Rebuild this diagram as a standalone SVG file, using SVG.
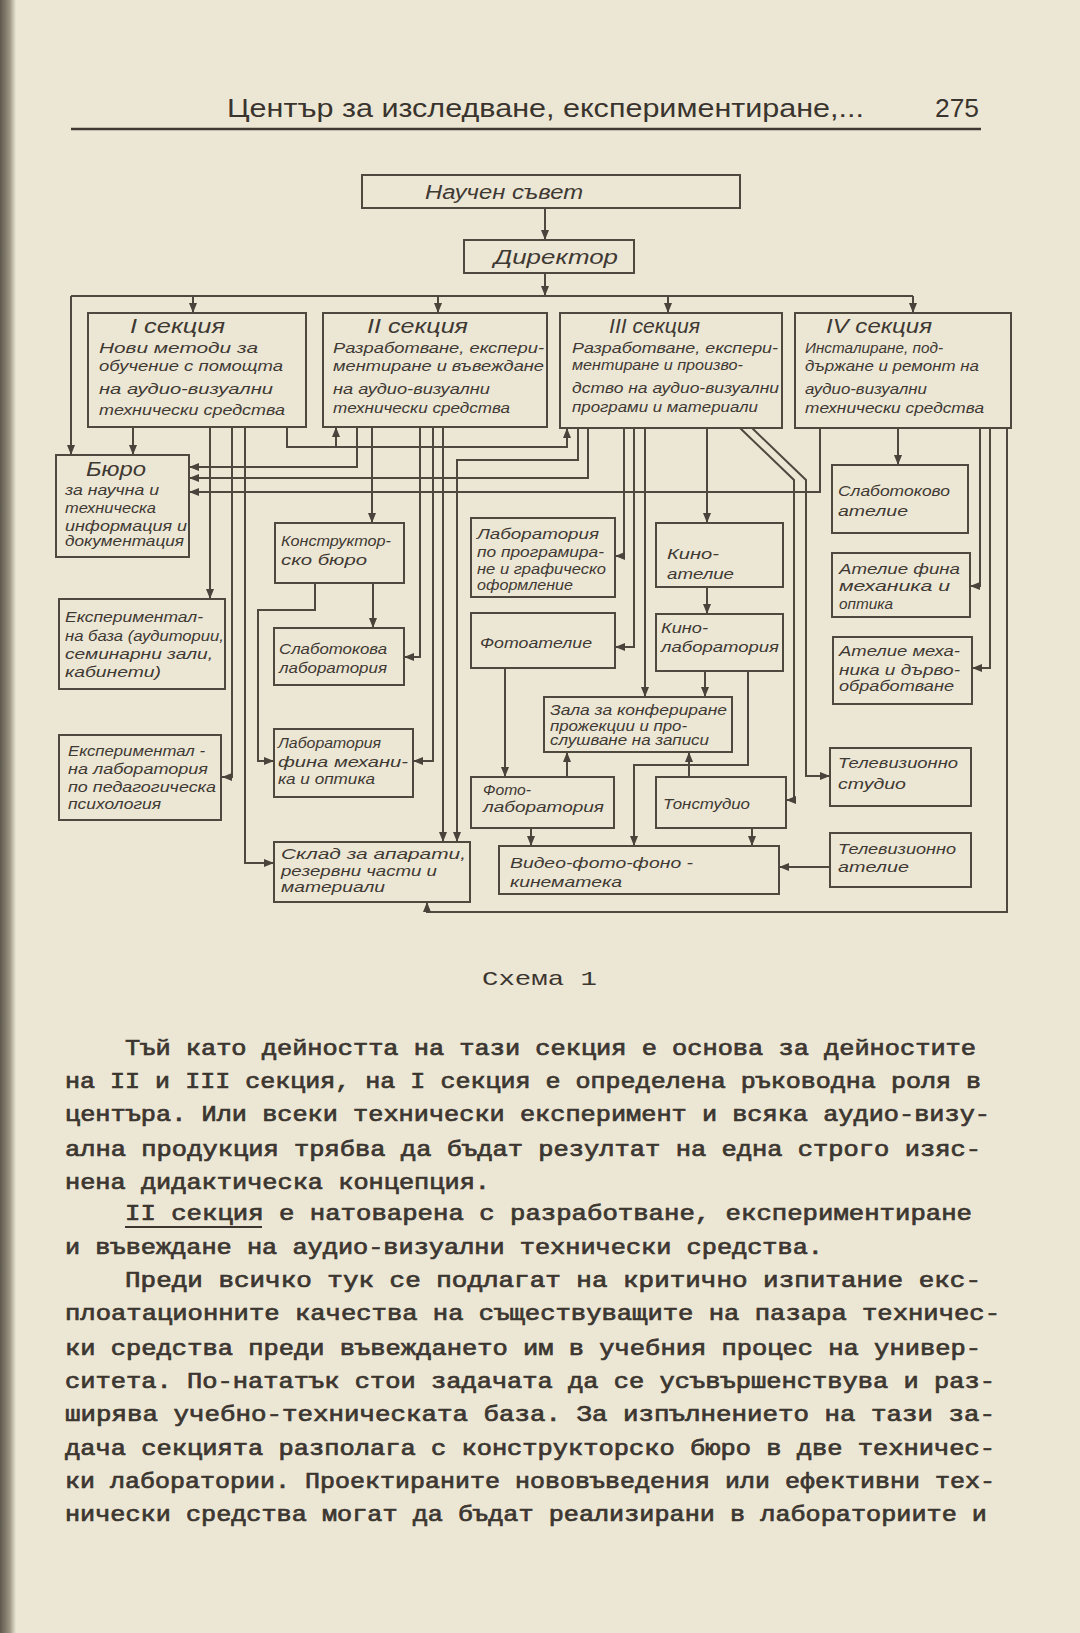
<svg xmlns="http://www.w3.org/2000/svg" width="1080" height="1633" viewBox="0 0 1080 1633">
<defs>
<linearGradient id="edge" x1="0" y1="0" x2="1" y2="0">
<stop offset="0" stop-color="#5e574c"/>
<stop offset="0.6" stop-color="#9b9483"/>
<stop offset="1" stop-color="#ebe6d3"/>
</linearGradient>
<marker id="ar" markerWidth="10" markerHeight="8" refX="10" refY="4" orient="auto" markerUnits="userSpaceOnUse">
<path d="M0,0 L10,4 L0,8 z" fill="#4a433b"/>
</marker>
<style>
.box{fill:none;stroke:#4f483f;stroke-width:2}
.c{fill:none;stroke:#4f483f;stroke-width:2}
.t{font-family:"Liberation Sans","DejaVu Sans",sans-serif;font-style:italic;font-size:15px;fill:#3f3933}
.tt{font-family:"Liberation Sans","DejaVu Sans",sans-serif;font-style:italic;font-size:20px;fill:#3f3933}
.h{font-family:"Liberation Sans","DejaVu Sans",sans-serif;font-size:25px;fill:#3a342e}
.b{font-family:"Liberation Mono","DejaVu Sans Mono",monospace;font-size:22px;fill:#3c3630;stroke:#3c3630;stroke-width:0.7}
</style>
</defs>
<rect x="0" y="0" width="1080" height="1633" fill="#ece7d5"/>
<rect x="0" y="0" width="16" height="1633" fill="url(#edge)"/>

<g id="header">
<text class="h" x="227" y="117" textLength="637" lengthAdjust="spacingAndGlyphs">Център за изследване, експериментиране,...</text>
<text class="h" x="935" y="117" textLength="44" lengthAdjust="spacingAndGlyphs">275</text>
<line x1="71" y1="129" x2="981" y2="129" stroke="#3f3933" stroke-width="2.5"/>
</g>

<g id="connectors">
<path class="c" d="M545,208 V240" marker-end="url(#ar)"/>
<path class="c" d="M545,273 V296" marker-end="url(#ar)"/>
<path class="c" d="M71,296 H913"/>
<path class="c" d="M71,296 V455" marker-end="url(#ar)"/>
<path class="c" d="M193,296 V313" marker-end="url(#ar)"/>
<path class="c" d="M438,296 V313" marker-end="url(#ar)"/>
<path class="c" d="M668,296 V313" marker-end="url(#ar)"/>
<path class="c" d="M913,296 V313" marker-end="url(#ar)"/>
<path class="c" d="M133,427 V455" marker-end="url(#ar)"/>
<path class="c" d="M210,427 V599" marker-end="url(#ar)"/>
<path class="c" d="M232,427 V777 H222" marker-end="url(#ar)"/>
<path class="c" d="M245,427 V863 H274" marker-end="url(#ar)"/>
<path class="c" d="M287,427 V447 H567 V428" marker-end="url(#ar)"/>
<path class="c" d="M336,447 V427" marker-end="url(#ar)"/>
<path class="c" d="M357,427 V467 H189" marker-end="url(#ar)"/>
<path class="c" d="M372,427 V523" marker-end="url(#ar)"/>
<path class="c" d="M420,427 V657 H404" marker-end="url(#ar)"/>
<path class="c" d="M433,427 V761 H413" marker-end="url(#ar)"/>
<path class="c" d="M443,427 V842" marker-end="url(#ar)"/>
<path class="c" d="M578,428 V460 H457 V842" marker-end="url(#ar)"/>
<path class="c" d="M588,428 V478 H189" marker-end="url(#ar)"/>
<path class="c" d="M624,428 V556 H615" marker-end="url(#ar)"/>
<path class="c" d="M634,428 V647 H615" marker-end="url(#ar)"/>
<path class="c" d="M645,428 V697" marker-end="url(#ar)"/>
<path class="c" d="M707,428 V523" marker-end="url(#ar)"/>
<path class="c" d="M740,428 L794,480 V800 H786" marker-end="url(#ar)"/>
<path class="c" d="M752,428 L806,480 V776 H830" marker-end="url(#ar)"/>
<path class="c" d="M820,428 V492 H189" marker-end="url(#ar)"/>
<path class="c" d="M898,428 V465" marker-end="url(#ar)"/>
<path class="c" d="M980,428 V586 H970" marker-end="url(#ar)"/>
<path class="c" d="M990,428 V668 H972" marker-end="url(#ar)"/>
<path class="c" d="M1007,428 V912 H427 V902" marker-end="url(#ar)"/>
<path class="c" d="M373,583 V628" marker-end="url(#ar)"/>
<path class="c" d="M315,583 V610 H258 V761 H274" marker-end="url(#ar)"/>
<path class="c" d="M707,587 V614" marker-end="url(#ar)"/>
<path class="c" d="M705,671 V697" marker-end="url(#ar)"/>
<path class="c" d="M748,671 V765 H634 V846" marker-end="url(#ar)"/>
<path class="c" d="M505,668 V777" marker-end="url(#ar)"/>
<path class="c" d="M567,777 V752" marker-end="url(#ar)"/>
<path class="c" d="M689,777 V752" marker-end="url(#ar)"/>
<path class="c" d="M531,828 V846" marker-end="url(#ar)"/>
<path class="c" d="M752,828 V846" marker-end="url(#ar)"/>
<path class="c" d="M830,867 H779" marker-end="url(#ar)"/>
</g>

<g id="n_sovet"><rect class="box" x="362" y="175" width="378" height="33"/><text class="tt" x="425" y="199" textLength="158" lengthAdjust="spacingAndGlyphs">Научен съвет</text></g>
<g id="n_director"><rect class="box" x="464" y="240" width="170" height="33"/><text class="tt" x="494" y="264" font-size="22" textLength="124" lengthAdjust="spacingAndGlyphs">Директор</text></g>

<g id="n_sec1"><rect class="box" x="88" y="313" width="218" height="114"/>
<text class="tt" x="130" y="333" textLength="95" lengthAdjust="spacingAndGlyphs">I секция</text>
<text class="t" x="99" y="353" textLength="159" lengthAdjust="spacingAndGlyphs">Нови методи за</text>
<text class="t" x="99" y="371" textLength="184" lengthAdjust="spacingAndGlyphs">обучение с помощта</text>
<text class="t" x="99" y="394" textLength="174" lengthAdjust="spacingAndGlyphs">на аудио-визуални</text>
<text class="t" x="99" y="415" textLength="186" lengthAdjust="spacingAndGlyphs">технически средства</text></g>

<g id="n_sec2"><rect class="box" x="323" y="313" width="224" height="114"/>
<text class="tt" x="367" y="333" textLength="101" lengthAdjust="spacingAndGlyphs">II секция</text>
<text class="t" x="333" y="353" textLength="211" lengthAdjust="spacingAndGlyphs">Разработване, експери-</text>
<text class="t" x="333" y="371" textLength="211" lengthAdjust="spacingAndGlyphs">ментиране и въвеждане</text>
<text class="t" x="333" y="394" textLength="157" lengthAdjust="spacingAndGlyphs">на аудио-визуални</text>
<text class="t" x="333" y="413" textLength="177" lengthAdjust="spacingAndGlyphs">технически средства</text></g>

<g id="n_sec3"><rect class="box" x="560" y="313" width="222" height="115"/>
<text class="tt" x="609" y="333" textLength="91" lengthAdjust="spacingAndGlyphs">III секция</text>
<text class="t" x="572" y="353" textLength="206" lengthAdjust="spacingAndGlyphs">Разработване, експери-</text>
<text class="t" x="572" y="370" textLength="171" lengthAdjust="spacingAndGlyphs">ментиране и произво-</text>
<text class="t" x="572" y="393" textLength="207" lengthAdjust="spacingAndGlyphs">дство на аудио-визуални</text>
<text class="t" x="572" y="412" textLength="186" lengthAdjust="spacingAndGlyphs">програми и материали</text></g>

<g id="n_sec4"><rect class="box" x="795" y="313" width="216" height="115"/>
<text class="tt" x="826" y="333" textLength="106" lengthAdjust="spacingAndGlyphs">IV секция</text>
<text class="t" x="805" y="353" textLength="138" lengthAdjust="spacingAndGlyphs">Инсталиране, под-</text>
<text class="t" x="805" y="371" textLength="174" lengthAdjust="spacingAndGlyphs">държане и ремонт на</text>
<text class="t" x="805" y="394" textLength="122" lengthAdjust="spacingAndGlyphs">аудио-визуални</text>
<text class="t" x="805" y="413" textLength="179" lengthAdjust="spacingAndGlyphs">технически средства</text></g>

<g id="n_buro"><rect class="box" x="56" y="455" width="133" height="102"/>
<text class="tt" x="86" y="476" font-size="18" textLength="60" lengthAdjust="spacingAndGlyphs">Бюро</text>
<text class="t" x="65" y="495" font-size="14" textLength="94" lengthAdjust="spacingAndGlyphs">за научна и</text>
<text class="t" x="65" y="513" font-size="14" textLength="91" lengthAdjust="spacingAndGlyphs">техническа</text>
<text class="t" x="65" y="531" font-size="14" textLength="122" lengthAdjust="spacingAndGlyphs">информация и</text>
<text class="t" x="65" y="546" font-size="14" textLength="119" lengthAdjust="spacingAndGlyphs">документация</text></g>

<g id="n_baza"><rect class="box" x="59" y="599" width="166" height="90"/>
<text class="t" x="65" y="622" textLength="138" lengthAdjust="spacingAndGlyphs">Експериментал-</text>
<text class="t" x="65" y="641" textLength="159" lengthAdjust="spacingAndGlyphs">на база (аудитории,</text>
<text class="t" x="65" y="659" textLength="148" lengthAdjust="spacingAndGlyphs">семинарни зали,</text>
<text class="t" x="65" y="677" textLength="96" lengthAdjust="spacingAndGlyphs">кабинети)</text></g>

<g id="n_eksplab"><rect class="box" x="59" y="735" width="162" height="85"/>
<text class="t" x="68" y="756" textLength="137" lengthAdjust="spacingAndGlyphs">Експериментал -</text>
<text class="t" x="68" y="774" textLength="140" lengthAdjust="spacingAndGlyphs">на лаборатория</text>
<text class="t" x="68" y="792" textLength="148" lengthAdjust="spacingAndGlyphs">по педагогическа</text>
<text class="t" x="68" y="809" textLength="93" lengthAdjust="spacingAndGlyphs">психология</text></g>

<g id="n_konstr"><rect class="box" x="275" y="523" width="129" height="60"/>
<text class="t" x="281" y="546" textLength="110" lengthAdjust="spacingAndGlyphs">Конструктор-</text>
<text class="t" x="281" y="565" textLength="86" lengthAdjust="spacingAndGlyphs">ско бюро</text></g>

<g id="n_slablab"><rect class="box" x="274" y="628" width="130" height="57"/>
<text class="t" x="279" y="654" textLength="108" lengthAdjust="spacingAndGlyphs">Слаботокова</text>
<text class="t" x="279" y="673" textLength="108" lengthAdjust="spacingAndGlyphs">лаборатория</text></g>

<g id="n_finalab"><rect class="box" x="274" y="729" width="139" height="68"/>
<text class="t" x="278" y="748" textLength="103" lengthAdjust="spacingAndGlyphs">Лаборатория</text>
<text class="t" x="278" y="767" textLength="130" lengthAdjust="spacingAndGlyphs">фина механи-</text>
<text class="t" x="278" y="784" textLength="97" lengthAdjust="spacingAndGlyphs">ка и оптика</text></g>

<g id="n_sklad"><rect class="box" x="274" y="842" width="196" height="60"/>
<text class="t" x="281" y="859" textLength="185" lengthAdjust="spacingAndGlyphs">Склад за апарати,</text>
<text class="t" x="281" y="876" textLength="156" lengthAdjust="spacingAndGlyphs">резервни части и</text>
<text class="t" x="281" y="892" textLength="104" lengthAdjust="spacingAndGlyphs">материали</text></g>

<g id="n_programlab"><rect class="box" x="471" y="518" width="144" height="79"/>
<text class="t" x="477" y="539" font-size="14" textLength="122" lengthAdjust="spacingAndGlyphs">Лаборатория</text>
<text class="t" x="477" y="557" font-size="14" textLength="127" lengthAdjust="spacingAndGlyphs">по програмира-</text>
<text class="t" x="477" y="574" font-size="14" textLength="129" lengthAdjust="spacingAndGlyphs">не и графическо</text>
<text class="t" x="477" y="590" font-size="14" textLength="96" lengthAdjust="spacingAndGlyphs">оформление</text></g>

<g id="n_fotoatelie"><rect class="box" x="471" y="613" width="144" height="55"/>
<text class="t" x="480" y="648" textLength="112" lengthAdjust="spacingAndGlyphs">Фотоателие</text></g>

<g id="n_kinoatelie"><rect class="box" x="656" y="523" width="127" height="64"/>
<text class="t" x="667" y="559" textLength="52" lengthAdjust="spacingAndGlyphs">Кино-</text>
<text class="t" x="667" y="579" textLength="67" lengthAdjust="spacingAndGlyphs">ателие</text></g>

<g id="n_kinolab"><rect class="box" x="656" y="614" width="127" height="57"/>
<text class="t" x="661" y="633" textLength="47" lengthAdjust="spacingAndGlyphs">Кино-</text>
<text class="t" x="661" y="652" textLength="118" lengthAdjust="spacingAndGlyphs">лаборатория</text></g>

<g id="n_zala"><rect class="box" x="544" y="697" width="188" height="55"/>
<text class="t" x="550" y="715" font-size="14" textLength="177" lengthAdjust="spacingAndGlyphs">Зала за конфериране</text>
<text class="t" x="550" y="731" font-size="14" textLength="137" lengthAdjust="spacingAndGlyphs">прожекции и про-</text>
<text class="t" x="550" y="745" font-size="14" textLength="159" lengthAdjust="spacingAndGlyphs">слушване на записи</text></g>

<g id="n_fotolab"><rect class="box" x="471" y="777" width="143" height="51"/>
<text class="t" x="483" y="795" textLength="48" lengthAdjust="spacingAndGlyphs">Фото-</text>
<text class="t" x="483" y="812" textLength="121" lengthAdjust="spacingAndGlyphs">лаборатория</text></g>

<g id="n_tonstudio"><rect class="box" x="656" y="777" width="130" height="51"/>
<text class="t" x="663" y="809" textLength="87" lengthAdjust="spacingAndGlyphs">Тонстудио</text></g>

<g id="n_video"><rect class="box" x="499" y="846" width="280" height="48"/>
<text class="t" x="510" y="868" textLength="183" lengthAdjust="spacingAndGlyphs">Видео-фото-фоно -</text>
<text class="t" x="510" y="887" textLength="112" lengthAdjust="spacingAndGlyphs">кинематека</text></g>

<g id="n_slabatelie"><rect class="box" x="832" y="465" width="136" height="68"/>
<text class="t" x="838" y="496" textLength="112" lengthAdjust="spacingAndGlyphs">Слаботоково</text>
<text class="t" x="838" y="516" textLength="70" lengthAdjust="spacingAndGlyphs">ателие</text></g>

<g id="n_finaatelie"><rect class="box" x="832" y="553" width="138" height="64"/>
<text class="t" x="839" y="574" textLength="121" lengthAdjust="spacingAndGlyphs">Ателие фина</text>
<text class="t" x="839" y="591" textLength="111" lengthAdjust="spacingAndGlyphs">механика и</text>
<text class="t" x="839" y="609" textLength="54" lengthAdjust="spacingAndGlyphs">оптика</text></g>

<g id="n_mehatelie"><rect class="box" x="833" y="637" width="139" height="67"/>
<text class="t" x="839" y="656" textLength="121" lengthAdjust="spacingAndGlyphs">Ателие меха-</text>
<text class="t" x="839" y="675" textLength="121" lengthAdjust="spacingAndGlyphs">ника и дърво-</text>
<text class="t" x="839" y="691" textLength="115" lengthAdjust="spacingAndGlyphs">обработване</text></g>

<g id="n_tvstudio"><rect class="box" x="830" y="748" width="141" height="58"/>
<text class="t" x="838" y="768" textLength="120" lengthAdjust="spacingAndGlyphs">Телевизионно</text>
<text class="t" x="838" y="789" textLength="68" lengthAdjust="spacingAndGlyphs">студио</text></g>

<g id="n_tvatelie"><rect class="box" x="830" y="833" width="141" height="54"/>
<text class="t" x="838" y="854" textLength="118" lengthAdjust="spacingAndGlyphs">Телевизионно</text>
<text class="t" x="838" y="872" textLength="71" lengthAdjust="spacingAndGlyphs">ателие</text></g>

<g id="caption">
<text x="482" y="985" font-family="Liberation Mono, DejaVu Sans Mono, monospace" font-size="21" fill="#3c3630" textLength="115" lengthAdjust="spacingAndGlyphs">Схема 1</text>
</g>

<g id="body">
<text class="b" x="125" y="1055" textLength="851" lengthAdjust="spacingAndGlyphs">Тъй като дейността на тази секция е основа за дейностите</text>
<text class="b" x="65" y="1088" textLength="916" lengthAdjust="spacingAndGlyphs">на II и III секция, на I секция е определена ръководна роля в</text>
<text class="b" x="65" y="1121" textLength="925" lengthAdjust="spacingAndGlyphs">центъра. Или всеки технически експеримент и всяка аудио-визу-</text>
<text class="b" x="65" y="1156" textLength="916" lengthAdjust="spacingAndGlyphs">ална продукция трябва да бъдат резултат на една строго изяс-</text>
<text class="b" x="65" y="1189" textLength="425" lengthAdjust="spacingAndGlyphs">нена дидактическа концепция.</text>
<text class="b" x="125" y="1220" textLength="847" lengthAdjust="spacingAndGlyphs">II секция е натоварена с разработване, експериментиране</text>
<line x1="125" y1="1227" x2="262" y2="1227" stroke="#3c3630" stroke-width="2"/>
<text class="b" x="65" y="1254" textLength="758" lengthAdjust="spacingAndGlyphs">и въвеждане на аудио-визуални технически средства.</text>
<text class="b" x="125" y="1287" textLength="856" lengthAdjust="spacingAndGlyphs">Преди всичко тук се подлагат на критично изпитание екс-</text>
<text class="b" x="65" y="1320" textLength="935" lengthAdjust="spacingAndGlyphs">плоатационните качества на съществуващите на пазара техничес-</text>
<text class="b" x="65" y="1355" textLength="916" lengthAdjust="spacingAndGlyphs">ки средства преди въвеждането им в учебния процес на универ-</text>
<text class="b" x="65" y="1388" textLength="930" lengthAdjust="spacingAndGlyphs">ситета. По-нататък стои задачата да се усъвършенствува и раз-</text>
<text class="b" x="65" y="1421" textLength="930" lengthAdjust="spacingAndGlyphs">ширява учебно-техническата база. За изпълнението на тази за-</text>
<text class="b" x="65" y="1455" textLength="930" lengthAdjust="spacingAndGlyphs">дача секцията разполага с конструкторско бюро в две техничес-</text>
<text class="b" x="65" y="1488" textLength="930" lengthAdjust="spacingAndGlyphs">ки лаборатории. Проектираните нововъведения или ефективни тех-</text>
<text class="b" x="65" y="1521" textLength="922" lengthAdjust="spacingAndGlyphs">нически средства могат да бъдат реализирани в лабораториите и</text>
</g>
</svg>
